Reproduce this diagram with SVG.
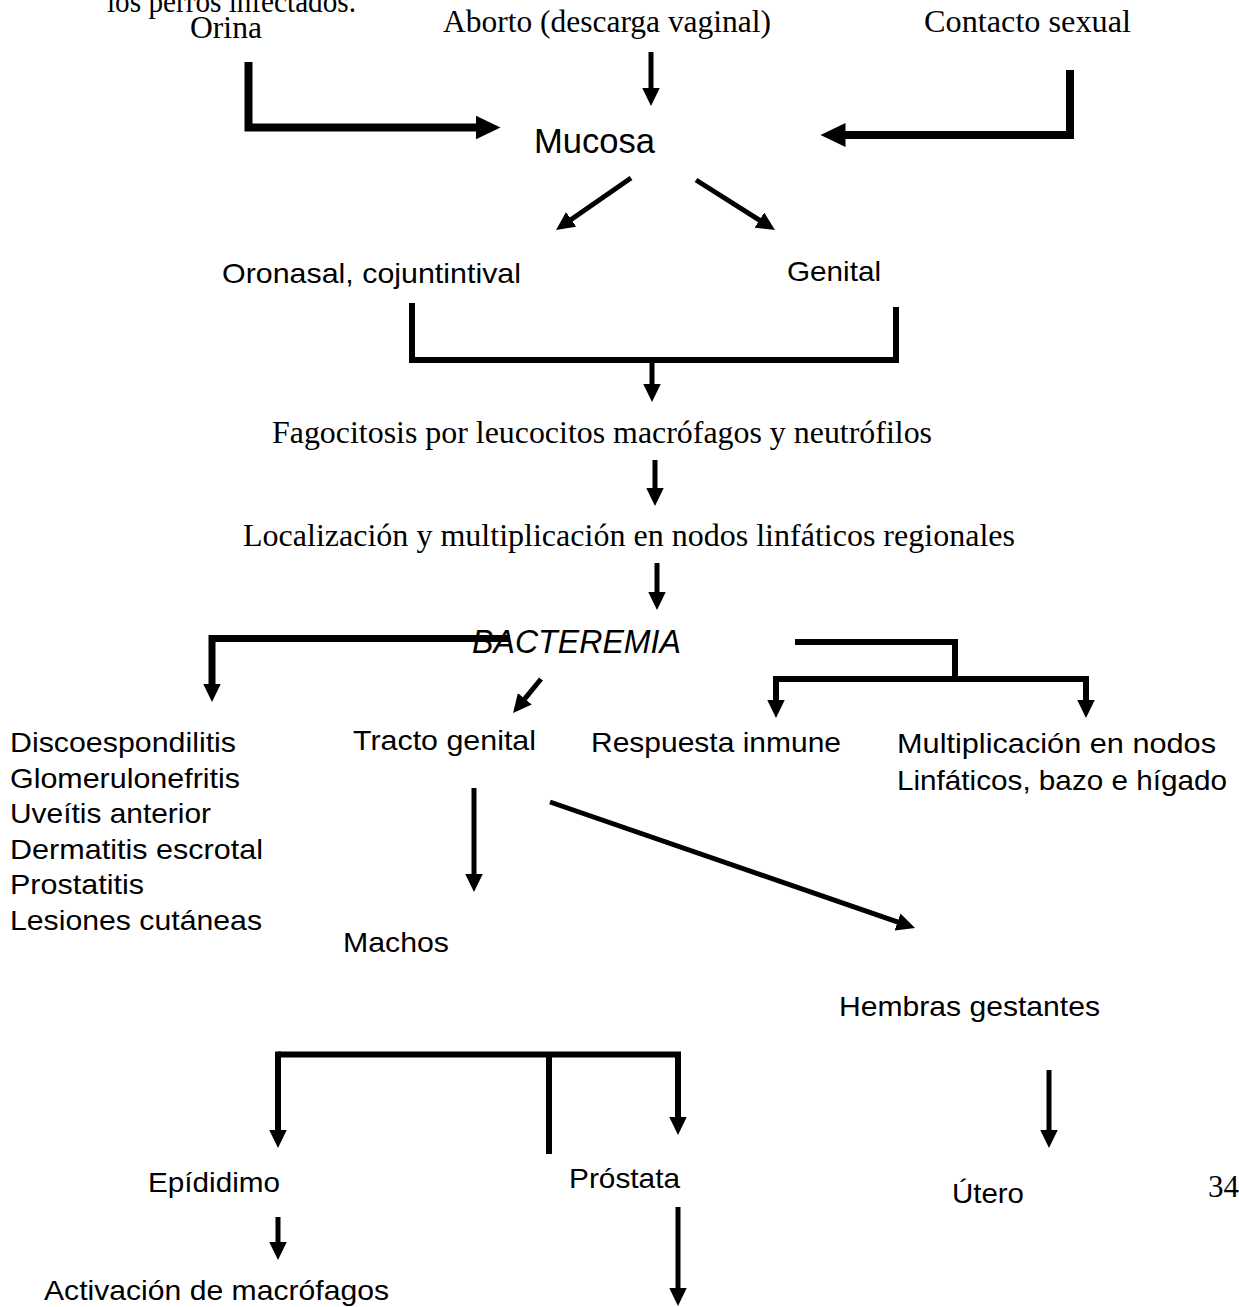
<svg xmlns="http://www.w3.org/2000/svg" width="1239" height="1307" viewBox="0 0 1239 1307">
<style>
.bg{fill:#fff}
.serif{font-family:"Liberation Serif","Times New Roman",serif;font-size:31px;fill:#000}
.sans{font-family:"Liberation Sans",Arial,sans-serif;font-size:28px;fill:#000}
.big{font-size:35px}
.it{font-style:italic}
.c{fill:none;stroke:#000;stroke-linejoin:miter;stroke-linecap:butt}
.w5{stroke-width:5}
.w6{stroke-width:6}
.w7{stroke-width:7}
.w8{stroke-width:8}
</style>
<defs>
<marker id="ah" markerUnits="userSpaceOnUse" markerWidth="19" markerHeight="18" refX="0.5" refY="9" orient="auto" viewBox="0 0 19 18">
<path d="M0,0 L18.5,9 L0,18 z" fill="#000"/>
</marker>
<marker id="ahb" markerUnits="userSpaceOnUse" markerWidth="26" markerHeight="24" refX="0.5" refY="12" orient="auto" viewBox="0 0 26 24">
<path d="M0,0 L25,12 L0,24 z" fill="#000"/>
</marker>
</defs>
<rect class="bg" x="0" y="0" width="1239" height="1307"/>

<g id="connectors">
<path class="c w8" d="M248.5,62 V127.5 H476" marker-end="url(#ahb)"/>
<line class="c w5" x1="651" y1="52" x2="651" y2="88" marker-end="url(#ah)"/>
<path class="c w8" d="M1070,70 V135 H845" marker-end="url(#ahb)"/>
<line class="c w5" x1="631" y1="178" x2="570.8" y2="219.7" marker-end="url(#ah)"/>
<line class="c w5" x1="696" y1="180" x2="759.8" y2="220.4" marker-end="url(#ah)"/>
<path class="c w6" d="M412,303 V360 H896 V307"/>
<line class="c w5" x1="652" y1="360" x2="652" y2="384" marker-end="url(#ah)"/>
<line class="c w5" x1="655" y1="460" x2="655" y2="488" marker-end="url(#ah)"/>
<line class="c w5" x1="657" y1="563" x2="657" y2="592" marker-end="url(#ah)"/>
<path class="c w7" d="M510,638.5 H212 V684" marker-end="url(#ah)"/>
<line class="c w5" x1="541" y1="679" x2="524.5" y2="699.1" marker-end="url(#ah)"/>
<path class="c w6" d="M795,642 H955 V679"/>
<path class="c w6" d="M773,679 H1089"/>
<line class="c w6" x1="776" y1="679" x2="776" y2="700" marker-end="url(#ah)"/>
<line class="c w6" x1="1086" y1="679" x2="1086" y2="700" marker-end="url(#ah)"/>
<line class="c w5" x1="474" y1="788" x2="474" y2="874" marker-end="url(#ah)"/>
<line class="c w5" x1="550" y1="802" x2="898" y2="922.1" marker-end="url(#ah)"/>
<path class="c w6" d="M278,1054.5 H678 V1117" marker-end="url(#ah)"/>
<line class="c w6" x1="278" y1="1051.5" x2="278" y2="1130" marker-end="url(#ah)"/>
<line class="c w6" x1="549" y1="1057" x2="549" y2="1154"/>
<line class="c w5" x1="1049" y1="1070" x2="1049" y2="1130" marker-end="url(#ah)"/>
<line class="c w5" x1="278" y1="1217" x2="278" y2="1242" marker-end="url(#ah)"/>
<line class="c w5" x1="678" y1="1207" x2="678" y2="1288" marker-end="url(#ah)"/>
</g>

<g id="n-orina">
<text class="serif" x="107" y="12" textLength="249" lengthAdjust="spacingAndGlyphs">los perros infectados.</text>
<text class="serif" x="190" y="38" textLength="72" lengthAdjust="spacingAndGlyphs">Orina</text>
</g>
<g id="n-aborto"><text class="serif" x="443" y="32" textLength="328" lengthAdjust="spacingAndGlyphs">Aborto (descarga vaginal)</text></g>
<g id="n-contacto"><text class="serif" x="924" y="32" textLength="207" lengthAdjust="spacingAndGlyphs">Contacto sexual</text></g>
<g id="n-mucosa"><text class="sans big" x="534" y="153" textLength="121" lengthAdjust="spacingAndGlyphs">Mucosa</text></g>
<g id="n-oronasal"><text class="sans" x="222" y="283" textLength="299" lengthAdjust="spacingAndGlyphs">Oronasal, cojuntintival</text></g>
<g id="n-genital"><text class="sans" x="787" y="281" textLength="94" lengthAdjust="spacingAndGlyphs">Genital</text></g>
<g id="n-fagocitosis"><text class="serif" x="272" y="443" textLength="660" lengthAdjust="spacingAndGlyphs">Fagocitosis por leucocitos macrófagos y neutrófilos</text></g>
<g id="n-localizacion"><text class="serif" x="243" y="546" textLength="772" lengthAdjust="spacingAndGlyphs">Localización y multiplicación en nodos linfáticos regionales</text></g>
<g id="n-bacteremia"><text class="sans it" style="font-size:34px" x="472" y="653" textLength="209" lengthAdjust="spacingAndGlyphs">BACTEREMIA</text></g>
<g id="n-lesiones">
<text class="sans" x="10" y="752" textLength="226" lengthAdjust="spacingAndGlyphs">Discoespondilitis</text>
<text class="sans" x="10" y="788" textLength="230" lengthAdjust="spacingAndGlyphs">Glomerulonefritis</text>
<text class="sans" x="10" y="823" textLength="201" lengthAdjust="spacingAndGlyphs">Uveítis anterior</text>
<text class="sans" x="10" y="859" textLength="253" lengthAdjust="spacingAndGlyphs">Dermatitis escrotal</text>
<text class="sans" x="10" y="894" textLength="134" lengthAdjust="spacingAndGlyphs">Prostatitis</text>
<text class="sans" x="10" y="930" textLength="252" lengthAdjust="spacingAndGlyphs">Lesiones cutáneas</text>
</g>
<g id="n-tracto"><text class="sans" x="353" y="750" textLength="183" lengthAdjust="spacingAndGlyphs">Tracto genital</text></g>
<g id="n-respuesta"><text class="sans" x="591" y="752" textLength="250" lengthAdjust="spacingAndGlyphs">Respuesta inmune</text></g>
<g id="n-multiplicacion">
<text class="sans" x="897" y="753" textLength="319" lengthAdjust="spacingAndGlyphs">Multiplicación en nodos</text>
<text class="sans" x="897" y="790" textLength="330" lengthAdjust="spacingAndGlyphs">Linfáticos, bazo e hígado</text>
</g>
<g id="n-machos"><text class="sans" x="343" y="952" textLength="106" lengthAdjust="spacingAndGlyphs">Machos</text></g>
<g id="n-hembras"><text class="sans" x="839" y="1016" textLength="261" lengthAdjust="spacingAndGlyphs">Hembras gestantes</text></g>
<g id="n-epididimo"><text class="sans" x="148" y="1192" textLength="132" lengthAdjust="spacingAndGlyphs">Epídidimo</text></g>
<g id="n-prostata"><text class="sans" x="569" y="1188" textLength="111" lengthAdjust="spacingAndGlyphs">Próstata</text></g>
<g id="n-utero"><text class="sans" x="952" y="1203" textLength="72" lengthAdjust="spacingAndGlyphs">Útero</text></g>
<g id="n-activacion"><text class="sans" x="44" y="1300" textLength="345" lengthAdjust="spacingAndGlyphs">Activación de macrófagos</text></g>
<g id="page-number"><text class="serif" x="1208" y="1197" textLength="31" lengthAdjust="spacingAndGlyphs">34</text></g>
</svg>
